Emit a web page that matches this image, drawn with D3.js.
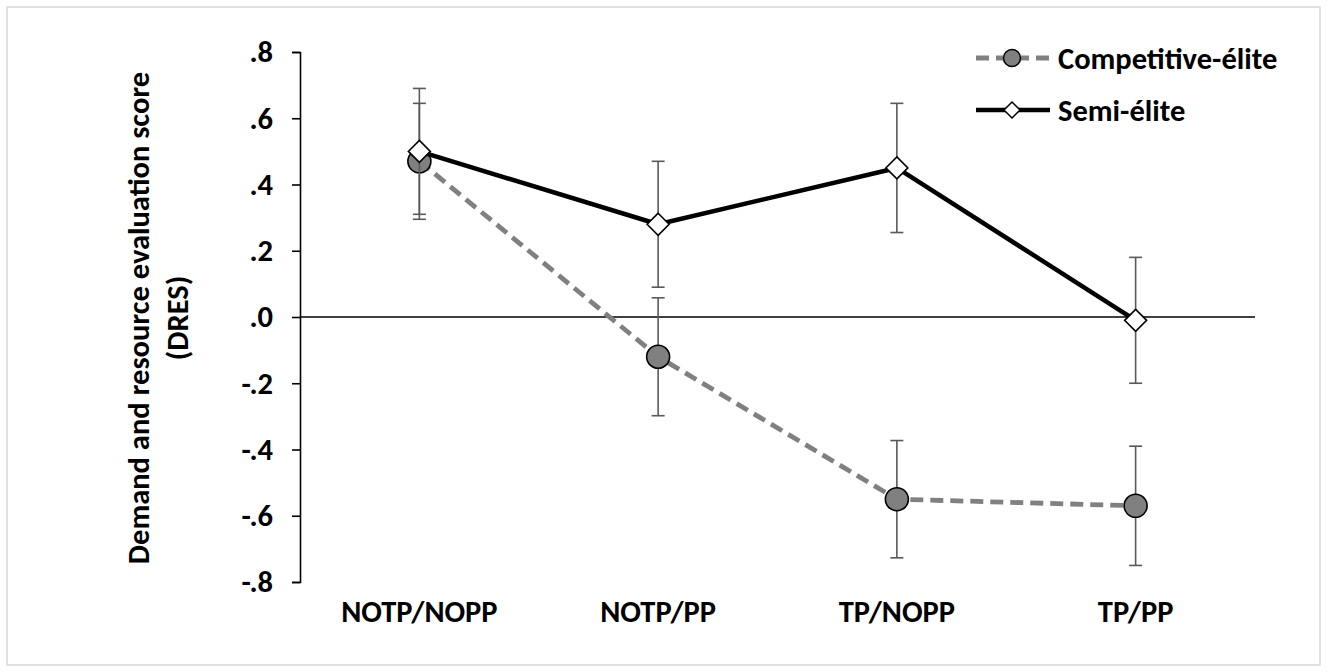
<!DOCTYPE html>
<html>
<head>
<meta charset="utf-8">
<script src="https://cdn.jsdelivr.net/npm/d3@7"></script>
<style>
  html, body { margin: 0; padding: 0; background: #ffffff; }
  svg { display: block; }
  text { font-family: Carlito, Calibri, Lato, "Open Sans", sans-serif; font-weight: 700; fill: #000; }
</style>
</head>
<body>
<svg id="chart" width="1327" height="672"></svg>
<script>
// Conditions on the x axis
const categories = ["NOTP/NOPP", "NOTP/PP", "TP/NOPP", "TP/PP"];

// Mean DRES per condition and error-bar half-widths
const competitiveMeans = [0.47, -0.12, -0.55, -0.57];
const competitiveErrors = [0.175, 0.178, 0.177, 0.18];
const semiMeans = [0.50, 0.28, 0.45, -0.01];
const semiErrors = [0.19, 0.19, 0.195, 0.19];

const seriesNames = ["Competitive-élite", "Semi-élite"];
const yTickValues = [-0.8, -0.6, -0.4, -0.2, 0.0, 0.2, 0.4, 0.6, 0.8];
const yTitleLines = ["Demand and resource evaluation score", "(DRES)"];

const svg = d3.select("#chart");
const W = 1327, H = 672;

// light frame around the figure
svg.append("rect")
  .attr("x", 7).attr("y", 7)
  .attr("width", W - 14).attr("height", H - 14)
  .attr("fill", "#fff").attr("stroke", "#d9d9d9").attr("stroke-width", 1.5);

const plot = { left: 300, right: 1255, top: 52, bottom: 582 };

const x = d3.scaleBand().domain(categories).range([plot.left, plot.right]);
const cx = c => x(c) + x.bandwidth() / 2;
const y = d3.scaleLinear().domain([-0.8, 0.8]).range([plot.bottom, plot.top]);

// tick labels without leading zero and with a plain hyphen for negatives
const fmt = v => (v < -1e-9 ? "-" : "") + "." + Math.round(Math.abs(v) * 10);

const fontSize = 30.5;

// y axis
const yAxis = svg.append("g")
  .attr("transform", `translate(${plot.left},0)`)
  .call(d3.axisLeft(y).tickValues(yTickValues).tickFormat(fmt).tickSize(8).tickPadding(19));
yAxis.attr("font-family", null).attr("font-size", null);
yAxis.select(".domain").attr("stroke", "#000").attr("stroke-width", 1.6);
yAxis.selectAll(".tick line").attr("stroke", "#000").attr("stroke-width", 1.6);
yAxis.selectAll(".tick text")
  .attr("font-size", fontSize)
  .attr("fill", "#000");

// zero reference line
svg.append("line")
  .attr("x1", plot.left).attr("x2", plot.right)
  .attr("y1", y(0)).attr("y2", y(0))
  .attr("stroke", "#000").attr("stroke-width", 1.6);

// category labels
svg.append("g").selectAll("text")
  .data(categories)
  .join("text")
  .attr("x", d => cx(d))
  .attr("y", 622)
  .attr("text-anchor", "middle")
  .attr("font-size", fontSize)
  .text(d => d);

// y axis title (two rotated lines)
const title = svg.append("text")
  .attr("transform", "translate(138,318) rotate(-90)")
  .attr("text-anchor", "middle")
  .attr("font-size", fontSize);
title.selectAll("tspan")
  .data(yTitleLines)
  .join("tspan")
  .attr("x", 0)
  .attr("dy", (d, i) => i === 0 ? "0.35em" : 39)
  .text(d => d);

const line = d3.line().x(d => cx(d.cat)).y(d => y(d.v));

function drawSeries(means, errors, opts) {
  const pts = categories.map((c, i) => ({ cat: c, v: means[i], e: errors[i] }));
  const g = svg.append("g");

  // error bars
  const eb = g.append("g").attr("stroke", "#595959").attr("stroke-width", 1.6);
  pts.forEach(p => {
    const px = cx(p.cat);
    eb.append("line").attr("x1", px).attr("x2", px).attr("y1", y(p.v + p.e)).attr("y2", y(p.v - p.e));
    eb.append("line").attr("x1", px - 6.5).attr("x2", px + 6.5).attr("y1", y(p.v + p.e)).attr("y2", y(p.v + p.e));
    eb.append("line").attr("x1", px - 6.5).attr("x2", px + 6.5).attr("y1", y(p.v - p.e)).attr("y2", y(p.v - p.e));
  });

  g.append("path")
    .datum(pts)
    .attr("d", line)
    .attr("fill", "none")
    .attr("stroke", opts.lineColor)
    .attr("stroke-width", opts.lineWidth)
    .attr("stroke-dasharray", opts.dash)
    .attr("stroke-linejoin", "round");

  g.selectAll(".mk")
    .data(pts)
    .join("path")
    .attr("class", "mk")
    .attr("transform", d => `translate(${cx(d.cat)},${y(d.v)})`)
    .attr("d", opts.marker(opts.markerSize))
    .attr("fill", opts.markerFill)
    .attr("stroke", "#000")
    .attr("stroke-width", 1.6);
}

const circlePath = r => `M${-r},0A${r},${r} 0 1,0 ${r},0A${r},${r} 0 1,0 ${-r},0Z`;
const diamondPath = r => `M0,${-r}L${r},0L0,${r}L${-r},0Z`;

const compStyle = {
  lineColor: "#808080", lineWidth: 4.8, dash: "13,7",
  marker: circlePath, markerSize: 11.5, markerFill: "#808080"
};
const semiStyle = {
  lineColor: "#000", lineWidth: 4.5, dash: null,
  marker: diamondPath, markerSize: 11, markerFill: "#fff"
};

drawSeries(competitiveMeans, competitiveErrors, compStyle);
drawSeries(semiMeans, semiErrors, semiStyle);

// legend
const legend = svg.append("g");
const legendItems = [
  { name: seriesNames[0], style: compStyle, y: 58, size: 8.5 },
  { name: seriesNames[1], style: semiStyle, y: 110, size: 8 }
];
legendItems.forEach(it => {
  legend.append("line")
    .attr("x1", 976).attr("x2", 1050)
    .attr("y1", it.y).attr("y2", it.y)
    .attr("stroke", it.style.lineColor)
    .attr("stroke-width", it.style.lineWidth)
    .attr("stroke-dasharray", it.style.dash);
  legend.append("path")
    .attr("transform", `translate(1012,${it.y})`)
    .attr("d", it.style.marker(it.size))
    .attr("fill", it.style.markerFill)
    .attr("stroke", "#000").attr("stroke-width", 1.5);
  legend.append("text")
    .attr("x", 1058).attr("y", it.y)
    .attr("dy", "0.35em")
    .attr("font-size", fontSize)
    .text(it.name);
});
</script>
</body>
</html>
